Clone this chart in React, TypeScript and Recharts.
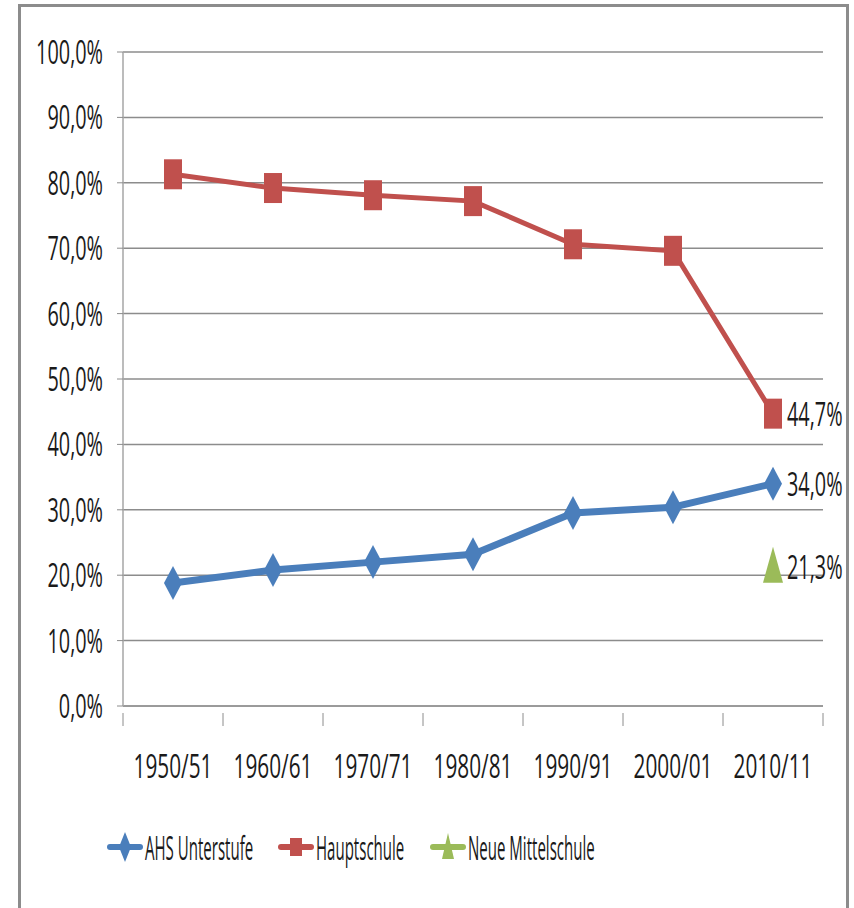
import { LineChart, Line, XAxis, YAxis, CartesianGrid, LabelList } from 'recharts'

const categories = ['1950/51', '1960/61', '1970/71', '1980/81', '1990/91', '2000/01', '2010/11']
const ahs = [18.8, 20.8, 22.0, 23.2, 29.5, 30.4, 34.0]
const haupt = [81.3, 79.2, 78.1, 77.2, 70.6, 69.6, 44.7]
const nms = [null, null, null, null, null, null, 21.3]
const yTicks = [0, 10, 20, 30, 40, 50, 60, 70, 80, 90, 100]

const SERIES = [
  { key: 'ahs', name: 'AHS Unterstufe', color: '#4a7ebb', shape: 'diamond', width: 7 },
  { key: 'haupt', name: 'Hauptschule', color: '#c0504d', shape: 'square', width: 5 },
  { key: 'nms', name: 'Neue Mittelschule', color: '#9bbb59', shape: 'triangle', width: 5 },
]

const FONT = "'Open Sans', 'Liberation Sans', sans-serif"
const FS = 32
const SX = 0.62 // the original text is tall and narrow
const TEXT = '#1a1a1a'
const LAST = categories.length - 1

const data = categories.map((year, i) => ({ year, ahs: ahs[i], haupt: haupt[i], nms: nms[i] }))

const pct = (v: number) => `${v.toFixed(1).replace('.', ',')}%`

// narrow text, drawn at (x, y) with the given anchor
function NText({ x, y, anchor = 'start', sx = SX, children }: any) {
  return (
    <text transform={`translate(${x},${y}) scale(${sx},1)`} textAnchor={anchor}
      dominantBaseline="central" fill={TEXT} fontSize={FS} fontFamily={FONT}>
      {children}
    </text>
  )
}

function marker(shape: string, color: string) {
  return (p: any) => {
    const { cx, cy, index } = p
    if (cx == null || cy == null || p.value == null) return <g key={`e-${index}`} />
    if (shape === 'square')
      return <rect key={`s-${index}`} x={cx - 9} y={cy - 15} width={18} height={30} fill={color} />
    if (shape === 'diamond')
      return (
        <polygon key={`d-${index}`} fill={color}
          points={`${cx},${cy - 17} ${cx + 9},${cy} ${cx},${cy + 17} ${cx - 9},${cy}`} />
      )
    return (
      <polygon key={`t-${index}`} fill={color}
        points={`${cx},${cy - 20} ${cx + 10},${cy + 16} ${cx - 10},${cy + 16}`} />
    )
  }
}

function EndLabel(p: any) {
  if (p.index !== LAST || p.value == null) return null
  const x = p.x ?? p.viewBox?.x
  const y = p.y ?? p.viewBox?.y
  return <NText x={x + 14} y={y}>{pct(Number(p.value))}</NText>
}

function XTick(p: any) {
  const { x, y, payload, index } = p
  return (
    <g>
      <line x1={x - 50} x2={x - 50} y1={y - 1} y2={y + 12} stroke="#8c8c8c" />
      {index === LAST && <line x1={x + 50} x2={x + 50} y1={y - 1} y2={y + 12} stroke="#8c8c8c" />}
      <NText x={x} y={y + 52} anchor="middle" sx={0.65}>{payload.value}</NText>
    </g>
  )
}

function YTick(p: any) {
  const { x, y, payload } = p
  return <NText x={x} y={y} anchor="end">{pct(payload.value)}</NText>
}

function LegendIcon({ shape, color }: { shape: string; color: string }) {
  return (
    <g>
      <rect x={0} y={-3} width={36} height={6} rx={3} fill={color} />
      {shape === 'square' && <rect x={12} y={-9} width={12} height={18} fill={color} />}
      {shape === 'diamond' && <polygon points="18,-15 24,0 18,15 12,0" fill={color} />}
      {shape === 'triangle' && <polygon points="18,-14 24,12 12,12" fill={color} />}
    </g>
  )
}

const legendX = [107, 278, 430]

export default function App() {
  return (
    <div style={{ position: 'absolute', left: 0, top: 0, width: 854, height: 908, background: '#fff', overflow: 'hidden' }}>
      {/* outer frame of the original chart */}
      <div style={{
        position: 'absolute', left: 18, top: 4, width: 831, height: 920,
        border: '3px solid #8c8c8c', boxSizing: 'border-box',
      }} />
      <div style={{ position: 'absolute', left: 0, top: 0 }}>
        <LineChart width={854} height={800} data={data} margin={{ top: 52, right: 31, bottom: 34, left: 0 }}>
          <CartesianGrid vertical={false} stroke="#8c8c8c" strokeWidth={1.5} />
          <XAxis
            dataKey="year"
            padding={{ left: 50, right: 50 }}
            axisLine={{ stroke: '#8c8c8c' }}
            tickLine={false}
            tick={<XTick />}
            interval={0}
            height={60}
          />
          <YAxis
            width={123}
            domain={[0, 100]}
            ticks={yTicks}
            axisLine={{ stroke: '#a6a6a6', strokeWidth: 1.5 }}
            tickLine={{ stroke: '#8c8c8c' }}
            tickSize={6}
            tickMargin={14}
            tick={<YTick />}
          />
          {SERIES.map(s => (
            <Line key={s.key} dataKey={s.key} name={s.name} stroke={s.color} strokeWidth={s.width}
              dot={marker(s.shape, s.color)} activeDot={false} isAnimationActive={false}>
              <LabelList dataKey={s.key} content={<EndLabel />} />
            </Line>
          ))}
        </LineChart>
      </div>
      {/* legend */}
      <svg width={854} height={60} style={{ position: 'absolute', left: 0, top: 817 }}>
        {SERIES.map((s, i) => (
          <g key={s.key} transform={`translate(${legendX[i]},30)`}>
            <LegendIcon shape={s.shape} color={s.color} />
            <NText x={38} y={0} sx={0.47}>{s.name}</NText>
          </g>
        ))}
      </svg>
    </div>
  )
}
